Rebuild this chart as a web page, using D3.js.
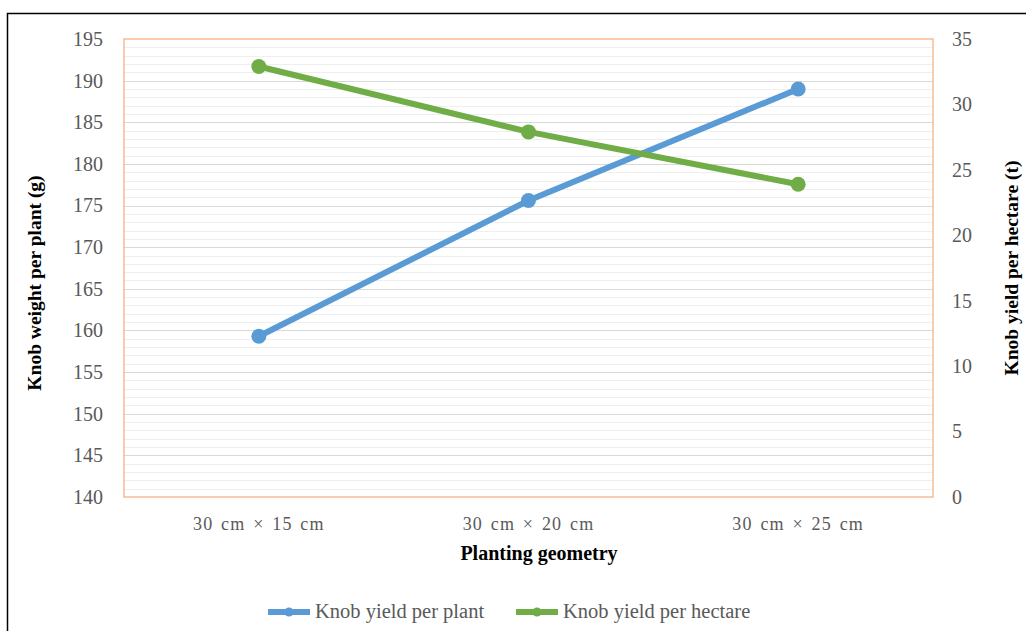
<!DOCTYPE html>
<html>
<head>
<meta charset="utf-8">
<script src="https://cdn.jsdelivr.net/npm/d3@7"></script>
<style>
  html, body { margin: 0; padding: 0; background: #fff; }
  svg { display: block; }
</style>
</head>
<body>
<svg id="chart" width="1026" height="631"></svg>
<script>
const categories = ["30 cm \u00d7 15 cm", "30 cm \u00d7 20 cm", "30 cm \u00d7 25 cm"];
const perPlant = [159.3, 175.6, 189.0];
const perHectare = [32.9, 27.9, 23.9];
const leftTicks = [140, 145, 150, 155, 160, 165, 170, 175, 180, 185, 190, 195];
const rightTicks = [0, 5, 10, 15, 20, 25, 30, 35];
const seriesNames = ["Knob yield per plant", "Knob yield per hectare"];

const svg = d3.select("#chart");
const W = 1026, H = 631;
const m = { left: 124, right: 933, top: 39, bottom: 497 };
const blue = "#5b9bd5", green = "#70ad47", orange = "#f4b183";
const serif = "'Liberation Serif', 'Times New Roman', serif";

// outer frame
svg.append("rect").attr("x", 7.5).attr("y", 13.5).attr("width", W + 10).attr("height", H + 10)
  .attr("fill", "none").attr("stroke", "#000").attr("stroke-width", 1.5);

const x = d3.scaleBand().domain(categories).range([m.left, m.right]);
const yL = d3.scaleLinear().domain([140, 195]).range([m.bottom, m.top]);
const yR = d3.scaleLinear().domain([0, 35]).range([m.bottom, m.top]);

// minor gridlines every 1 unit
const minor = d3.range(141, 195).filter(v => v % 5 !== 0);
svg.append("g").selectAll("line").data(minor).join("line")
  .attr("x1", m.left).attr("x2", m.right)
  .attr("y1", d => Math.round(yL(d)) + 0.5).attr("y2", d => Math.round(yL(d)) + 0.5)
  .attr("stroke", "#efefef").attr("stroke-width", 1);
svg.append("g").selectAll("line").data(leftTicks.filter(v => v > 140 && v < 195)).join("line")
  .attr("x1", m.left).attr("x2", m.right)
  .attr("y1", d => Math.round(yL(d)) + 0.5).attr("y2", d => Math.round(yL(d)) + 0.5)
  .attr("stroke", "#d9d9d9").attr("stroke-width", 1.2);

// plot border
svg.append("rect").attr("x", m.left).attr("y", m.top)
  .attr("width", m.right - m.left).attr("height", m.bottom - m.top)
  .attr("fill", "none").attr("stroke", orange).attr("stroke-width", 1.3);

// left axis
const axL = d3.axisLeft(yL).tickValues(leftTicks).tickSize(0).tickPadding(21);
const gL = svg.append("g").attr("transform", `translate(${m.left},0)`).call(axL);
gL.select(".domain").remove();
gL.selectAll("text").attr("font-family", serif).attr("font-size", 20).attr("fill", "#595959");

// right axis
const axR = d3.axisRight(yR).tickValues(rightTicks).tickSize(0).tickPadding(19);
const gR = svg.append("g").attr("transform", `translate(${m.right},0)`).call(axR);
gR.select(".domain").remove();
gR.selectAll("text").attr("font-family", serif).attr("font-size", 20).attr("fill", "#595959");

// x axis labels
const axX = d3.axisBottom(x).tickSize(0).tickPadding(20);
const gX = svg.append("g").attr("transform", `translate(0,${m.bottom})`).call(axX);
gX.select(".domain").remove();
gX.selectAll("text").attr("font-family", serif).attr("font-size", 18).attr("fill", "#595959")
  .attr("letter-spacing", "1.2px").attr("word-spacing", "2px");

// axis titles
svg.append("text").attr("x", 539).attr("y", 560).attr("text-anchor", "middle")
  .attr("font-family", serif).attr("font-weight", "bold").attr("font-size", 20).attr("fill", "#000")
  .text("Planting geometry");
svg.append("text").attr("transform", "translate(41,283) rotate(-90)").attr("text-anchor", "middle")
  .attr("font-family", serif).attr("font-weight", "bold").attr("font-size", 19.5).attr("fill", "#000")
  .text("Knob weight per plant (g)");
svg.append("text").attr("transform", "translate(1018,268) rotate(-90)").attr("text-anchor", "middle")
  .attr("font-family", serif).attr("font-weight", "bold").attr("font-size", 19.5).attr("fill", "#000")
  .text("Knob yield per hectare (t)");

// series
const cx = d => x(d) + x.bandwidth() / 2;
const series = [
  { vals: perPlant, scale: yL, color: blue },
  { vals: perHectare, scale: yR, color: green }
];
series.forEach(s => {
  const pts = categories.map((c, i) => [cx(c), s.scale(s.vals[i])]);
  svg.append("path").attr("d", d3.line()(pts)).attr("fill", "none")
    .attr("stroke", s.color).attr("stroke-width", 6).attr("stroke-linejoin", "round");
  svg.append("g").selectAll("circle").data(pts).join("circle")
    .attr("cx", d => d[0]).attr("cy", d => d[1]).attr("r", 7.5).attr("fill", s.color);
});

// legend
const legX = [268, 516];
const colors = [blue, green];
seriesNames.forEach((n, i) => {
  const g = svg.append("g").attr("transform", `translate(${legX[i]},612)`);
  g.append("line").attr("x1", 0).attr("x2", 42).attr("y1", 0).attr("y2", 0)
    .attr("stroke", colors[i]).attr("stroke-width", 6);
  g.append("circle").attr("cx", 21).attr("cy", 0).attr("r", 4.5).attr("fill", colors[i]);
  g.append("text").attr("x", 47).attr("y", 6).attr("font-family", serif).attr("font-size", 20.5)
    .attr("fill", "#595959").text(n);
});
</script>
</body>
</html>
